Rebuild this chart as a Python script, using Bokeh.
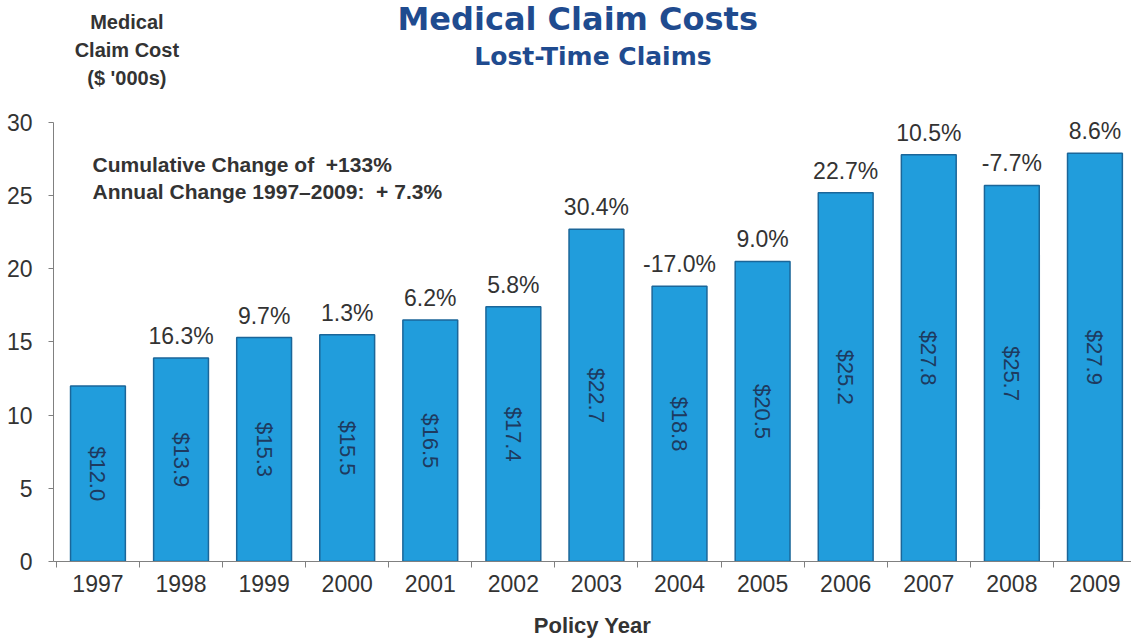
import math
from bokeh.plotting import figure
from bokeh.layouts import column
from bokeh.models import Range1d, FixedTicker, Label, ColumnDataSource
from bokeh.embed import file_html
from bokeh.resources import INLINE

years = [1997, 1998, 1999, 2000, 2001, 2002, 2003, 2004, 2005, 2006, 2007, 2008, 2009]
costs = [12.0, 13.9, 15.3, 15.5, 16.5, 17.4, 22.7, 18.8, 20.5, 25.2, 27.8, 25.7, 27.9]
pct_labels = ["", "16.3%", "9.7%", "1.3%", "6.2%", "5.8%", "30.4%", "-17.0%",
              "9.0%", "22.7%", "10.5%", "-7.7%", "8.6%"]
y_ticks = [0, 5, 10, 15, 20, 25, 30]

cost_labels = ["$%.1f" % c for c in costs]
mids = [c / 2 for c in costs]

TXT = "#333333"
BLUE_T = "#1F4B8F"
W = 1131
HEAD_H = 100
MAIN_H = 540

# ---------------- header (titles) ----------------
h = figure(width=W, height=HEAD_H, output_backend="svg", toolbar_location=None,
           x_range=Range1d(0, W), y_range=Range1d(HEAD_H, 0),
           x_axis_location=None, y_axis_location=None,
           min_border=0, min_border_left=0, min_border_right=0,
           min_border_top=0, min_border_bottom=0)
h.outline_line_color = None
h.xgrid.grid_line_color = None
h.ygrid.grid_line_color = None


def hlab(text, x, y, size, color, font="Liberation Sans"):
    h.add_layout(Label(x=x, y=y, text=text, text_font=font, text_font_size=size,
                       text_color=color, text_font_style="bold",
                       text_align="center", text_baseline="middle"))


hlab("Medical Claim Costs", 550, 18, "32px", BLUE_T, font="DejaVu Sans")
hlab("Lost-Time Claims", 566, 56, "25px", BLUE_T, font="DejaVu Sans")
hlab("Medical", 77, 21, "20px", TXT)
hlab("Claim Cost", 77, 49, "20px", TXT)
hlab("($ '000s)", 77, 77, "20px", TXT)

# ---------------- main chart ----------------
src = ColumnDataSource(dict(year=years, cost=costs, pct=pct_labels,
                            clab=cost_labels, mid=mids))

p = figure(width=W, height=MAIN_H, output_backend="svg", toolbar_location=None,
           x_range=Range1d(years[0] - 0.535, years[-1] + 0.44), y_range=Range1d(0, 31.5),
           min_border_left=53, min_border_right=0, min_border_top=0, min_border_bottom=77)
p.outline_line_color = None
p.xgrid.grid_line_color = None
p.ygrid.grid_line_color = None

p.vbar(x="year", top="cost", width=0.66, source=src,
       fill_color="#219DDC", line_color="#1B6699", line_width=1.5)

p.text(x="year", y="cost", text="pct", source=src, text_align="center",
       text_baseline="bottom", y_offset=-9, text_font={"value": "Liberation Sans"},
       text_font_size="23px", text_color=TXT)

p.text(x="year", y="mid", text="clab", source=src, text_align="center",
       text_baseline="middle", angle=-math.pi / 2, text_font={"value": "Liberation Sans"},
       text_font_size="22px", text_color="#1E3A5F")

xa = p.xaxis[0]
xa.ticker = FixedTicker(ticks=years, minor_ticks=[y + 0.5 for y in [years[0] - 1] + years])
xa.major_tick_out = 0
xa.major_tick_in = 0
xa.minor_tick_out = 6
xa.minor_tick_in = 0
xa.minor_tick_line_color = "#808080"
xa.axis_line_color = "#808080"
xa.major_label_text_font = "Liberation Sans"
xa.major_label_text_font_size = "23px"
xa.major_label_text_color = TXT
xa.major_label_standoff = 7
xa.axis_label = "Policy Year"
xa.axis_label_text_font = "Liberation Sans"
xa.axis_label_text_font_style = "bold"
xa.axis_label_text_font_size = "22px"
xa.axis_label_text_color = TXT
xa.axis_label_standoff = 18

ya = p.yaxis[0]
ya.ticker = FixedTicker(ticks=y_ticks)
ya.bounds = (0, 30)
ya.minor_tick_out = 0
ya.minor_tick_in = 0
ya.major_tick_out = 5
ya.major_tick_in = 0
ya.major_tick_line_color = "#808080"
ya.axis_line_color = "#808080"
ya.major_label_text_font = "Liberation Sans"
ya.major_label_text_font_size = "23px"
ya.major_label_text_color = TXT
ya.major_label_standoff = 16


def lab(text, x, y):
    p.add_layout(Label(x=x, y=y, x_units="screen", y_units="screen", text=text,
                       text_font="Liberation Sans", text_font_size="21px", text_color=TXT,
                       text_font_style="bold", text_align="left",
                       text_baseline="alphabetic"))


lab("Cumulative Change of\u00a0 +133%", 39, 397)
lab("Annual Change 1997\u20132009:\u00a0 + 7.3%", 39, 370)

layout = column(h, p, spacing=0)
open("out.html", "w").write(file_html(layout, INLINE))
